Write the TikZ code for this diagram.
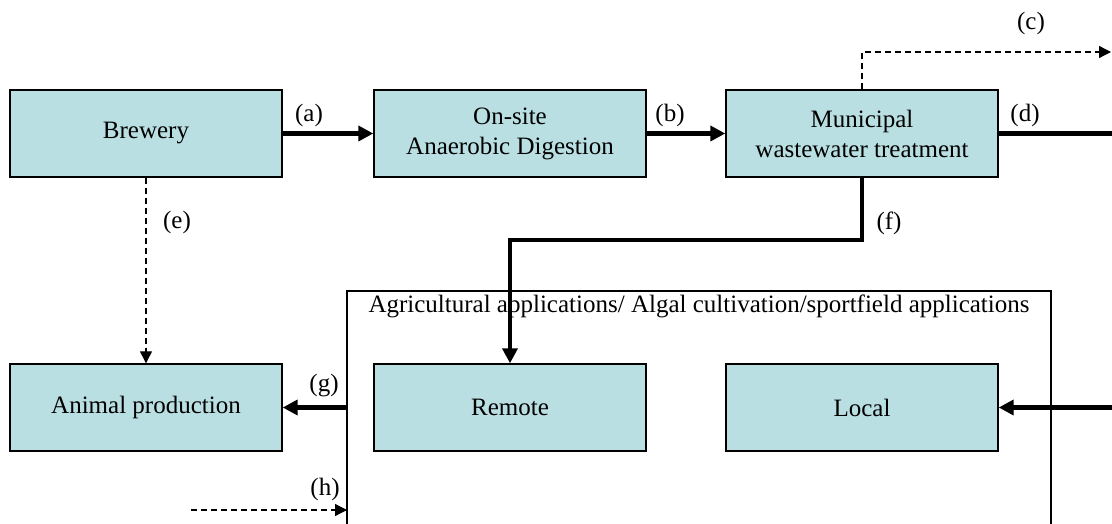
\documentclass[tikz,border=0pt]{standalone}
\usepackage{fontspec}
\setmainfont{Liberation Serif}
\usetikzlibrary{arrows.meta}
\definecolor{boxfill}{RGB}{185,223,226}
\begin{document}
\begin{tikzpicture}[x=1pt,y=-1pt,
  stage/.style={draw=black,line width=1.4pt,fill=boxfill,minimum width=272pt,
    minimum height=87pt,align=center,inner sep=0pt,font=\fontsize{25}{30}\selectfont},
  flow/.style={line width=4.2pt,-{Triangle[length=15pt,width=15pt]}},
  bareflow/.style={line width=4.2pt},
  optflow/.style={line width=1.3pt,dash pattern=on 6pt off 4pt,
    -{Triangle[length=12pt,width=12pt]}},
  tag/.style={font=\fontsize{25}{30}\selectfont,inner sep=0pt}]
\useasboundingbox (0,0) rectangle (1112,524);
\clip (0,0) rectangle (1112,524);

% process boxes
\node[stage] (brewery) at (146,133.5) {Brewery};
\node[stage] (digest) at (510,133.5) {On-site\\Anaerobic Digestion};
\node[stage] (municipal) at (862,133.5) {Municipal\\wastewater treatment};
\node[stage] (animal) at (146,407.5) {Animal production};
\node[stage] (remote) at (510,407.5) {Remote};
\node[stage] (local) at (862,407.5) {Local};

% land application area
\draw[line width=1.3pt] (347,540) -- (347,291) -- (1051,291) -- (1051,540);
\node[tag] (areatitle) at (699,306)
  {Agricultural applications/ Algal cultivation/sportfield applications};

% free ends at the edges
\coordinate (cend) at (1111,52);
\coordinate (dend) at (1112,133.5);
\coordinate (lstart) at (1112,407.5);
\coordinate (hstart) at (191,510);
\coordinate (hend) at (347,510);
\coordinate (gstart) at (347,407.5);

% flows
\draw[flow] (brewery) -- (digest);
\draw[flow] (digest) -- (municipal);
\draw[optflow] (municipal.north) -- (862,52) -- (cend);
\draw[bareflow] (municipal.east) -- (dend);
\draw[optflow] (brewery.south) -- (animal.north);
\draw[flow] (municipal.south) -- (862,240) -- (510,240) -- (remote.north);
\draw[flow] (gstart) -- (animal.east);
\draw[flow] (lstart) -- (local.east);
\draw[optflow] (hstart) -- (hend);

% flow labels
\node[tag] (la) at (309,115) {(a)};
\node[tag] (lb) at (670,115) {(b)};
\node[tag] (lc) at (1031,23) {(c)};
\node[tag] (ld) at (1025,115) {(d)};
\node[tag] (le) at (177,222) {(e)};
\node[tag] (lf) at (889,223) {(f)};
\node[tag] (lg) at (324,386) {(g)};
\node[tag] (lh) at (325,489) {(h)};
\end{tikzpicture}
\end{document}
